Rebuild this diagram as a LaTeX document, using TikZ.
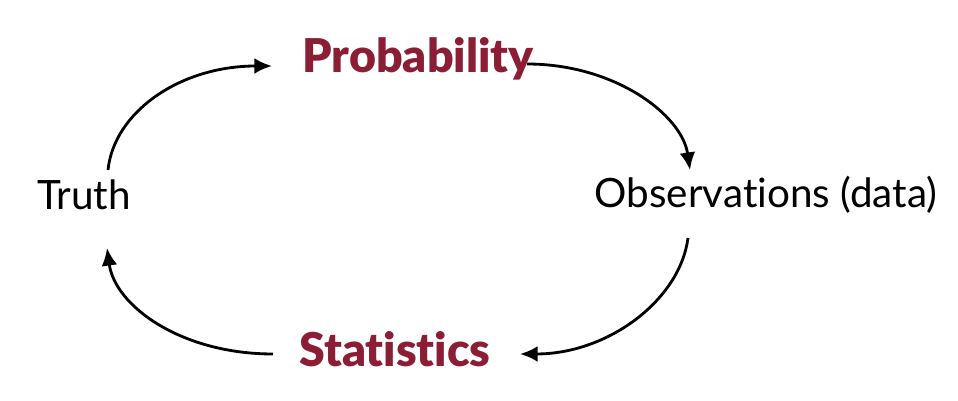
\documentclass[tikz,border=0pt]{standalone}
\usepackage{fontspec}
\setmainfont{Lato}[Ligatures={NoCommon}]
\newfontfamily\keyfont{Lato Black}[Ligatures={NoCommon}]
\usepackage{tikz}
\usetikzlibrary{calc,arrows.meta}
\definecolor{wine}{RGB}{139,30,53}
\tikzset{
    label text/.style={anchor=base, inner sep=0pt, font=\fontsize{23}{27}\selectfont},
    key text/.style={label text, text=wine, font=\keyfont\fontsize{26.5}{31}\selectfont},
    cycle arrow/.style={line width=1.6pt, -{Latex[length=10pt,width=9pt]}},
}

\begin{document}
\begin{tikzpicture}[x=0.02cm,y=-0.02cm]
\useasboundingbox (0,0) rectangle (958,401);
\node[label text] (truth) at (84,210) {Truth};
\node[label text] (obs) at (766,208) {Observations (data)};
\node[key text] (prob) at (418,73) {Probability};
\node[key text] (stat) at (395,367) {Statistics};

\draw[cycle arrow] ($(truth.base)+(24,-40)$) .. controls +(6,-58) and +(-92,0) .. ($(prob.base)+(-146,-7)$);
\draw[cycle arrow] ($(prob.base)+(109,-9)$) .. controls +(88,0) and +(-8,-55) .. ($(obs.base)+(-76,-38)$);
\draw[cycle arrow] ($(obs.base)+(-78,30)$) .. controls +(-8,62) and +(88,0) .. ($(stat.base)+(125,-13)$);
\draw[cycle arrow] ($(stat.base)+(-122,-13)$) .. controls +(-92,0) and +(8,58) .. ($(truth.base)+(23,38)$);
\end{tikzpicture}
\end{document}
